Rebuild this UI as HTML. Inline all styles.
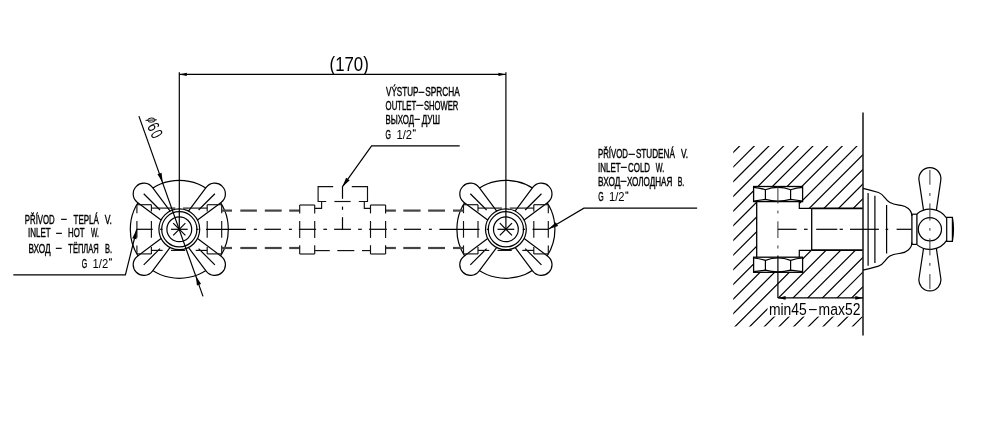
<!DOCTYPE html>
<html><head><meta charset="utf-8"><title>Drawing</title>
<style>
html,body{margin:0;padding:0;background:#fff;}
body{width:995px;height:439px;overflow:hidden;font-family:"Liberation Sans",sans-serif;}
svg{display:block;filter:grayscale(1);}
.l{fill:none;stroke:#000;stroke-width:1.2;}
.n{fill:none;stroke:#000;stroke-width:1.2;}
.lw{fill:#fff;stroke:#000;stroke-width:1.2;}
.h{fill:none;stroke:#111;stroke-width:1.15;}
.g{fill:none;stroke:#333;stroke-width:0.9;}
.g2{fill:none;stroke:#333;stroke-width:1;}
.t{fill:none;stroke:#444;stroke-width:2.2;}
.k{fill:none;stroke:#000;stroke-width:1.8;}
.k2{fill:none;stroke:#222;stroke-width:1.6;}
.f{fill:#000;stroke:none;}
.w{fill:#fff;stroke:none;}
.p{fill:none;stroke:#000;stroke-width:0.9;}
.q{fill:none;stroke:#000;stroke-width:1.1;}
text.big{stroke-width:0;}
text{font-family:"Liberation Sans",sans-serif;fill:#000;stroke:#000;stroke-width:0.38;}
</style></head>
<body>
<svg width="995" height="439" viewBox="0 0 995 439">
<rect x="0" y="0" width="995" height="439" fill="#fff"/>
<g id="main">
<circle class="l" cx="179.3" cy="229.3" r="49.0"/>
<path class="lw" d="M197.19,238.28 L221.13,256.15 A10.7,10.7 0 1 1 206.15,271.13 L188.28,247.19" />
<line class="l" x1="198.60" y1="248.60" x2="214.87" y2="264.87" />
<path class="lw" d="M170.32,247.19 L152.45,271.13 A10.7,10.7 0 1 1 137.47,256.15 L161.41,238.28" />
<line class="l" x1="160.00" y1="248.60" x2="143.73" y2="264.87" />
<path class="lw" d="M161.41,220.32 L137.47,202.45 A10.7,10.7 0 1 1 152.45,187.47 L170.32,211.41" />
<line class="l" x1="160.00" y1="210.00" x2="143.73" y2="193.73" />
<path class="lw" d="M188.28,211.41 L206.15,187.47 A10.7,10.7 0 1 1 221.13,202.45 L197.19,220.32" />
<line class="l" x1="198.60" y1="210.00" x2="214.87" y2="193.73" />
<circle class="lw" cx="179.3" cy="229.3" r="20.4"/>
<circle class="l" cx="179.3" cy="229.3" r="17.6"/>
<circle class="l" cx="179.3" cy="229.3" r="12.4"/>
<line class="l" x1="170.90" y1="229.30" x2="187.70" y2="229.30" />
<line class="l" x1="173.20" y1="223.20" x2="185.40" y2="235.40" />
<line class="l" x1="173.20" y1="235.40" x2="185.40" y2="223.20" />
<line class="l" x1="160.10" y1="229.30" x2="162.50" y2="229.30" />
<line class="l" x1="196.10" y1="229.30" x2="198.50" y2="229.30" />
<line class="h" x1="136.90" y1="204.70" x2="136.90" y2="213.20" />
<line class="h" x1="136.90" y1="221.00" x2="136.90" y2="237.70" />
<line class="h" x1="136.90" y1="245.40" x2="136.90" y2="253.90" />
<line class="h" x1="151.40" y1="204.70" x2="151.40" y2="211.50" />
<line class="h" x1="151.40" y1="221.00" x2="151.40" y2="237.70" />
<line class="h" x1="151.40" y1="247.00" x2="151.40" y2="253.90" />
<line class="h" x1="136.90" y1="204.70" x2="151.40" y2="204.70" />
<line class="h" x1="136.90" y1="253.90" x2="151.40" y2="253.90" />
<line class="h" x1="221.70" y1="204.70" x2="221.70" y2="213.20" />
<line class="h" x1="221.70" y1="221.00" x2="221.70" y2="237.70" />
<line class="h" x1="221.70" y1="245.40" x2="221.70" y2="253.90" />
<line class="h" x1="207.20" y1="204.70" x2="207.20" y2="211.50" />
<line class="h" x1="207.20" y1="221.00" x2="207.20" y2="237.70" />
<line class="h" x1="207.20" y1="247.00" x2="207.20" y2="253.90" />
<line class="h" x1="221.70" y1="204.70" x2="207.20" y2="204.70" />
<line class="h" x1="221.70" y1="253.90" x2="207.20" y2="253.90" />
<line class="h" x1="151.40" y1="208.10" x2="175.30" y2="208.10" />
<line class="h" x1="183.10" y1="208.10" x2="207.20" y2="208.10" />
<line class="h" x1="151.40" y1="250.40" x2="162.60" y2="250.40" />
<line class="h" x1="170.90" y1="250.40" x2="185.20" y2="250.40" />
<line class="h" x1="195.70" y1="250.40" x2="207.20" y2="250.40" />
<circle class="l" cx="505.9" cy="229.3" r="49.0"/>
<path class="lw" d="M523.79,238.28 L547.73,256.15 A10.7,10.7 0 1 1 532.75,271.13 L514.88,247.19" />
<line class="l" x1="525.20" y1="248.60" x2="541.47" y2="264.87" />
<path class="lw" d="M496.92,247.19 L479.05,271.13 A10.7,10.7 0 1 1 464.07,256.15 L488.01,238.28" />
<line class="l" x1="486.60" y1="248.60" x2="470.33" y2="264.87" />
<path class="lw" d="M488.01,220.32 L464.07,202.45 A10.7,10.7 0 1 1 479.05,187.47 L496.92,211.41" />
<line class="l" x1="486.60" y1="210.00" x2="470.33" y2="193.73" />
<path class="lw" d="M514.88,211.41 L532.75,187.47 A10.7,10.7 0 1 1 547.73,202.45 L523.79,220.32" />
<line class="l" x1="525.20" y1="210.00" x2="541.47" y2="193.73" />
<circle class="lw" cx="505.9" cy="229.3" r="20.4"/>
<circle class="l" cx="505.9" cy="229.3" r="17.6"/>
<circle class="l" cx="505.9" cy="229.3" r="12.4"/>
<line class="l" x1="497.50" y1="229.30" x2="514.30" y2="229.30" />
<line class="l" x1="499.80" y1="223.20" x2="512.00" y2="235.40" />
<line class="l" x1="499.80" y1="235.40" x2="512.00" y2="223.20" />
<line class="l" x1="486.70" y1="229.30" x2="489.10" y2="229.30" />
<line class="l" x1="522.70" y1="229.30" x2="525.10" y2="229.30" />
<line class="h" x1="463.50" y1="204.70" x2="463.50" y2="213.20" />
<line class="h" x1="463.50" y1="221.00" x2="463.50" y2="237.70" />
<line class="h" x1="463.50" y1="245.40" x2="463.50" y2="253.90" />
<line class="h" x1="478.00" y1="204.70" x2="478.00" y2="211.50" />
<line class="h" x1="478.00" y1="221.00" x2="478.00" y2="237.70" />
<line class="h" x1="478.00" y1="247.00" x2="478.00" y2="253.90" />
<line class="h" x1="463.50" y1="204.70" x2="478.00" y2="204.70" />
<line class="h" x1="463.50" y1="253.90" x2="478.00" y2="253.90" />
<line class="h" x1="548.30" y1="204.70" x2="548.30" y2="213.20" />
<line class="h" x1="548.30" y1="221.00" x2="548.30" y2="237.70" />
<line class="h" x1="548.30" y1="245.40" x2="548.30" y2="253.90" />
<line class="h" x1="533.80" y1="204.70" x2="533.80" y2="211.50" />
<line class="h" x1="533.80" y1="221.00" x2="533.80" y2="237.70" />
<line class="h" x1="533.80" y1="247.00" x2="533.80" y2="253.90" />
<line class="h" x1="548.30" y1="204.70" x2="533.80" y2="204.70" />
<line class="h" x1="548.30" y1="253.90" x2="533.80" y2="253.90" />
<line class="h" x1="478.00" y1="208.10" x2="501.90" y2="208.10" />
<line class="h" x1="509.70" y1="208.10" x2="533.80" y2="208.10" />
<line class="h" x1="478.00" y1="250.40" x2="489.20" y2="250.40" />
<line class="h" x1="497.50" y1="250.40" x2="511.80" y2="250.40" />
<line class="h" x1="522.30" y1="250.40" x2="533.80" y2="250.40" />
<line class="l" x1="136.70" y1="229.30" x2="152.70" y2="229.30" />
<line class="l" x1="206.00" y1="229.30" x2="245.90" y2="229.30" />
<line class="l" x1="439.40" y1="229.30" x2="479.50" y2="229.30" />
<line class="l" x1="532.50" y1="229.30" x2="548.70" y2="229.30" />
<line class="l" x1="253.80" y1="229.30" x2="256.90" y2="229.30" />
<line class="l" x1="264.40" y1="229.30" x2="280.90" y2="229.30" />
<line class="l" x1="288.90" y1="229.30" x2="291.90" y2="229.30" />
<line class="l" x1="298.80" y1="229.30" x2="316.10" y2="229.30" />
<line class="l" x1="323.40" y1="229.30" x2="327.00" y2="229.30" />
<line class="l" x1="334.10" y1="229.30" x2="351.00" y2="229.30" />
<line class="l" x1="358.10" y1="229.30" x2="361.80" y2="229.30" />
<line class="l" x1="369.10" y1="229.30" x2="386.80" y2="229.30" />
<line class="l" x1="393.60" y1="229.30" x2="396.60" y2="229.30" />
<line class="l" x1="404.00" y1="229.30" x2="421.00" y2="229.30" />
<line class="l" x1="428.90" y1="229.30" x2="431.90" y2="229.30" />
<line class="t" x1="221.70" y1="210.60" x2="232.00" y2="210.60" />
<line class="t" x1="240.30" y1="210.60" x2="256.90" y2="210.60" />
<line class="t" x1="264.80" y1="210.60" x2="281.70" y2="210.60" />
<line class="t" x1="289.20" y1="210.60" x2="299.70" y2="210.60" />
<line class="t" x1="385.60" y1="210.60" x2="395.90" y2="210.60" />
<line class="t" x1="403.30" y1="210.60" x2="420.60" y2="210.60" />
<line class="t" x1="428.10" y1="210.60" x2="445.00" y2="210.60" />
<line class="t" x1="453.00" y1="210.60" x2="463.40" y2="210.60" />
<line class="t" x1="221.70" y1="248.00" x2="232.00" y2="248.00" />
<line class="t" x1="240.30" y1="248.00" x2="256.90" y2="248.00" />
<line class="t" x1="264.80" y1="248.00" x2="281.70" y2="248.00" />
<line class="t" x1="289.20" y1="248.00" x2="299.70" y2="248.00" />
<line class="t" x1="385.60" y1="248.00" x2="395.90" y2="248.00" />
<line class="t" x1="403.30" y1="248.00" x2="420.60" y2="248.00" />
<line class="t" x1="428.10" y1="248.00" x2="445.00" y2="248.00" />
<line class="t" x1="453.00" y1="248.00" x2="463.40" y2="248.00" />
<line class="h" x1="299.70" y1="205.00" x2="314.70" y2="205.00" />
<line class="h" x1="299.70" y1="254.00" x2="314.70" y2="254.00" />
<line class="h" x1="299.70" y1="205.00" x2="299.70" y2="213.40" />
<line class="h" x1="299.70" y1="221.00" x2="299.70" y2="237.90" />
<line class="h" x1="299.70" y1="245.20" x2="299.70" y2="254.00" />
<line class="h" x1="314.70" y1="205.00" x2="314.70" y2="213.40" />
<line class="h" x1="314.70" y1="221.00" x2="314.70" y2="237.90" />
<line class="h" x1="314.70" y1="245.20" x2="314.70" y2="254.00" />
<line class="h" x1="370.50" y1="205.00" x2="385.60" y2="205.00" />
<line class="h" x1="370.50" y1="254.00" x2="385.60" y2="254.00" />
<line class="h" x1="370.50" y1="205.00" x2="370.50" y2="213.40" />
<line class="h" x1="370.50" y1="221.00" x2="370.50" y2="237.90" />
<line class="h" x1="370.50" y1="245.20" x2="370.50" y2="254.00" />
<line class="h" x1="385.60" y1="205.00" x2="385.60" y2="213.40" />
<line class="h" x1="385.60" y1="221.00" x2="385.60" y2="237.90" />
<line class="h" x1="385.60" y1="245.20" x2="385.60" y2="254.00" />
<path class="h" d="M314.7,208.4 L321.6,208.4 L321.6,201.5" />
<path class="h" d="M370.5,208.4 L364.3,208.4 L364.3,201.5" />
<path class="h" d="M333.2,186.6 L318.1,186.6 L318.1,201.5 L326.2,201.5" />
<path class="h" d="M351.8,186.6 L367.5,186.6 L367.5,201.5 L358.8,201.5" />
<line class="h" x1="334.40" y1="201.50" x2="350.60" y2="201.50" />
<line class="l" x1="342.50" y1="186.60" x2="342.50" y2="198.80" />
<line class="l" x1="342.50" y1="206.60" x2="342.50" y2="209.80" />
<line class="l" x1="342.50" y1="217.20" x2="342.50" y2="229.30" />
<line class="h" x1="314.70" y1="250.60" x2="329.80" y2="250.60" />
<line class="h" x1="337.30" y1="250.60" x2="354.30" y2="250.60" />
<line class="h" x1="362.00" y1="250.60" x2="370.50" y2="250.60" />
<line class="l" x1="179.30" y1="72.20" x2="179.30" y2="229.30" />
<line class="l" x1="505.90" y1="72.20" x2="505.90" y2="229.30" />
<line class="l" x1="179.30" y1="74.40" x2="505.90" y2="74.40" />
<polygon class="f" points="179.30,74.40 186.80,76.00 186.80,72.80"/>
<polygon class="f" points="505.90,74.40 498.40,72.80 498.40,76.00"/>
<line class="l" x1="138.90" y1="116.10" x2="203.00" y2="296.40" />
<polygon class="f" points="162.70,182.60 161.56,172.82 157.42,174.29"/>
<polygon class="f" points="195.80,275.70 196.94,285.48 201.08,284.01"/>
<path class="n" d="M13.3,274.8 L125.4,274.8 L136.7,229.5" />
<polygon class="f" points="136.70,229.50 132.24,238.28 136.51,239.35"/>
<path class="n" d="M459.7,145.9 L371.6,145.9 L342.3,186.9" />
<polygon class="f" points="342.30,186.90 349.67,180.37 346.09,177.81"/>
<path class="n" d="M697.1,208.2 L583.9,208.2 L548.7,229.1" />
<polygon class="f" points="548.70,229.10 558.08,226.09 555.83,222.31"/>
</g>
<g id="side">
<clipPath id="hc"><rect x="733.3" y="146.0" width="129.7" height="180.5"/></clipPath>
<path class="l" clip-path="url(#hc)" d="M731.30,154.30 L865.00,20.60 M731.30,168.97 L865.00,35.27 M731.30,183.64 L865.00,49.94 M731.30,198.31 L865.00,64.61 M731.30,212.98 L865.00,79.28 M731.30,227.65 L865.00,93.95 M731.30,242.32 L865.00,108.62 M731.30,256.99 L865.00,123.29 M731.30,271.66 L865.00,137.96 M731.30,286.33 L865.00,152.63 M731.30,301.00 L865.00,167.30 M731.30,315.67 L865.00,181.97 M731.30,330.34 L865.00,196.64 M731.30,345.01 L865.00,211.31 M731.30,359.68 L865.00,225.98 M731.30,374.35 L865.00,240.65 M731.30,389.02 L865.00,255.32 M731.30,403.69 L865.00,269.99 M731.30,418.36 L865.00,284.66 M731.30,433.03 L865.00,299.33 M731.30,447.70 L865.00,314.00"/>
<path class="w" d="M753.6,186.5 H802.6 V201.6 H799.3 V208.3 H863 V250.4 H799.3 V257.2 H802.6 V272.3 H753.6 V257.2 H756.7 V201.6 H753.6 Z"/>
<rect class="w" x="767.5" y="298.0" width="95.5" height="18.6"/>
<rect class="l" x="753.6" y="186.5" width="49.0" height="15.099999999999994" style="stroke-width:1.3"/>
<line class="l" x1="765.40" y1="189.70" x2="765.40" y2="199.40" />
<line class="l" x1="790.60" y1="189.70" x2="790.60" y2="199.40" />
<path class="l" d="M753.6,187.3 Q759.5,187.7 765.4,189.7 Q778,184.9 790.6,189.7 Q796.6,187.7 802.6,187.3" />
<path class="l" d="M753.6,201.0 L765.4,199.4 Q778,202.79999999999998 790.6,199.4 L802.6,201.0" />
<rect class="l" x="753.6" y="257.2" width="49.0" height="15.100000000000023" style="stroke-width:1.3"/>
<line class="l" x1="765.40" y1="260.40" x2="765.40" y2="270.10" />
<line class="l" x1="790.60" y1="260.40" x2="790.60" y2="270.10" />
<path class="l" d="M753.6,258.0 Q759.5,258.4 765.4,260.4 Q778,255.6 790.6,260.4 Q796.6,258.4 802.6,258.0" />
<path class="l" d="M753.6,271.7 L765.4,270.1 Q778,273.5 790.6,270.1 L802.6,271.7" />
<line class="l" x1="756.70" y1="201.60" x2="756.70" y2="257.20" style="stroke-width:1.3"/>
<path class="l" d="M799.3,201.6 V208.3 H811.7" />
<path class="l" d="M799.3,257.2 V250.4 H811.7" />
<line class="l" x1="811.70" y1="208.30" x2="811.70" y2="250.40" style="stroke-width:1.3"/>
<line class="k" x1="811.70" y1="208.30" x2="863.00" y2="208.30" />
<line class="k" x1="811.70" y1="250.20" x2="863.00" y2="250.20" />
<line class="k2" x1="863.00" y1="112.60" x2="863.00" y2="335.60" />
<line class="g2" x1="777.90" y1="186.50" x2="777.90" y2="203.50" />
<line class="g2" x1="777.90" y1="210.60" x2="777.90" y2="213.40" />
<line class="g2" x1="777.90" y1="221.30" x2="777.90" y2="238.00" />
<line class="g2" x1="777.90" y1="245.50" x2="777.90" y2="248.50" />
<line class="l" x1="777.90" y1="255.50" x2="777.90" y2="297.90" />
<line class="l" x1="777.90" y1="229.30" x2="796.60" y2="229.30" />
<line class="l" x1="804.00" y1="229.30" x2="807.60" y2="229.30" />
<line class="l" x1="816.20" y1="229.30" x2="837.30" y2="229.30" />
<line class="l" x1="839.60" y1="229.30" x2="842.90" y2="229.30" />
<line class="l" x1="850.00" y1="229.30" x2="878.90" y2="229.30" />
<line class="l" x1="885.60" y1="229.30" x2="888.20" y2="229.30" />
<line class="l" x1="896.60" y1="229.30" x2="911.60" y2="229.30" />
<line class="l" x1="777.90" y1="297.90" x2="863.00" y2="297.90" />
<polygon class="f" points="777.90,297.90 785.60,299.70 785.60,296.10"/>
<polygon class="f" points="863.00,297.90 855.30,296.10 855.30,299.70"/>
<path class="l" d="M863.0,188.40 C868,189.60 873,190.90 878.5,192.50 C884,194.20 885,199.50 889.5,202.30 C893.5,204.80 897,204.80 901.2,205.40 C906,206.10 911.7,209.50 911.9,216.00" />
<path class="l" d="M863.0,270.20 C868,269.00 873,267.70 878.5,266.10 C884,264.40 885,259.10 889.5,256.30 C893.5,253.80 897,253.80 901.2,253.20 C906,252.50 911.7,249.10 911.9,242.60" />
<line class="l" x1="911.90" y1="214.50" x2="911.90" y2="244.10" style="stroke-width:1.3"/>
<line class="l" x1="868.10" y1="192.90" x2="868.10" y2="265.70" />
<line class="l" x1="874.90" y1="195.70" x2="874.90" y2="262.90" />
<line class="l" x1="886.60" y1="205.00" x2="886.60" y2="253.60" />
<line class="l" x1="916.90" y1="214.00" x2="916.90" y2="244.60" style="stroke-width:1.3"/>
<line class="l" x1="911.90" y1="214.20" x2="916.90" y2="214.20" />
<line class="l" x1="911.90" y1="244.40" x2="916.90" y2="244.40" />
<path class="l" d="M923.5,209.90 L919.03,180.35 A11,11 0 1 1 940.77,180.35 L936.4,209.90" />
<path class="l" d="M923.5,248.70 L919.03,278.25 A11,11 0 1 0 940.77,278.25 L936.4,248.70" />
<path class="l" d="M916.9,213.97 A20.1,20.1 0 0 1 946.7,218.27" />
<path class="l" d="M916.9,244.63 A20.1,20.1 0 0 0 946.7,240.33" />
<circle class="l" cx="929.9" cy="229.3" r="11.6"/>
<path class="l" d="M946.7,217.4 H952.4 Q954.6,229.3 952.4,241.4 H946.7 Z" style="stroke-width:1.2"/>
<line class="l" x1="952.40" y1="217.40" x2="952.40" y2="241.40" />
<line class="g2" x1="929.90" y1="169.90" x2="929.90" y2="184.70" />
<line class="g2" x1="929.90" y1="193.00" x2="929.90" y2="195.90" />
<line class="g2" x1="929.90" y1="203.40" x2="929.90" y2="220.50" />
<line class="g2" x1="929.90" y1="228.00" x2="929.90" y2="230.70" />
<line class="g2" x1="929.90" y1="238.40" x2="929.90" y2="255.40" />
<line class="g2" x1="929.90" y1="262.90" x2="929.90" y2="265.80" />
<line class="g2" x1="929.90" y1="274.10" x2="929.90" y2="288.90" />
</g>
<g id="labels" opacity="0.999">
<text class="big" x="329.6" y="71.1" font-size="20" textLength="39.2" lengthAdjust="spacingAndGlyphs">(170)</text>
<text x="24.8" y="223.7" font-size="12.1" textLength="29.90" lengthAdjust="spacingAndGlyphs">PŘÍVOD</text>
<text x="61.2" y="223.0" font-size="12.1" textLength="5.30" lengthAdjust="spacingAndGlyphs">–</text>
<text x="73.6" y="223.7" font-size="12.1" textLength="25.30" lengthAdjust="spacingAndGlyphs">TEPLÁ</text>
<text x="104.7" y="223.7" font-size="12.1" textLength="7.30" lengthAdjust="spacingAndGlyphs">V.</text>
<text x="28.0" y="237.4" font-size="12.1" textLength="22.70" lengthAdjust="spacingAndGlyphs">INLET</text>
<text x="56.2" y="236.7" font-size="12.1" textLength="5.50" lengthAdjust="spacingAndGlyphs">–</text>
<text x="68.0" y="237.4" font-size="12.1" textLength="16.60" lengthAdjust="spacingAndGlyphs">HOT</text>
<text x="90.9" y="237.4" font-size="12.1" textLength="8.00" lengthAdjust="spacingAndGlyphs">W.</text>
<text x="28.4" y="252.5" font-size="12.1" textLength="22.30" lengthAdjust="spacingAndGlyphs">ВХОД</text>
<text x="56.0" y="251.8" font-size="12.1" textLength="5.50" lengthAdjust="spacingAndGlyphs">–</text>
<text x="68.3" y="252.5" font-size="12.1" textLength="30.40" lengthAdjust="spacingAndGlyphs">ТЁПЛАЯ</text>
<text x="104.9" y="252.5" font-size="12.1" textLength="7.10" lengthAdjust="spacingAndGlyphs">В.</text>
<text x="81.8" y="267.7" font-size="12.1" textLength="5.40" lengthAdjust="spacingAndGlyphs">G</text>
<text class="big" x="92.6" y="267.7" font-size="12.1" textLength="15.60" lengthAdjust="spacingAndGlyphs">1/2</text><path class="q" d="M109.60,258.30 v2.3 M111.30,258.30 v2.3"/>
<text x="386.0" y="96.2" font-size="12.1" textLength="32.40" lengthAdjust="spacingAndGlyphs">VÝSTUP</text>
<text x="418.8" y="95.5" font-size="12.1" textLength="5.40" lengthAdjust="spacingAndGlyphs">–</text>
<text x="425.2" y="96.2" font-size="12.1" textLength="34.70" lengthAdjust="spacingAndGlyphs">SPRCHA</text>
<text x="385.6" y="110.0" font-size="12.1" textLength="30.60" lengthAdjust="spacingAndGlyphs">OUTLET</text>
<text x="416.6" y="109.3" font-size="12.1" textLength="6.60" lengthAdjust="spacingAndGlyphs">–</text>
<text x="423.9" y="110.0" font-size="12.1" textLength="34.50" lengthAdjust="spacingAndGlyphs">SHOWER</text>
<text x="385.6" y="123.6" font-size="12.1" textLength="28.60" lengthAdjust="spacingAndGlyphs">ВЫХОД</text>
<text x="414.7" y="122.9" font-size="12.1" textLength="5.00" lengthAdjust="spacingAndGlyphs">–</text>
<text x="421.7" y="123.6" font-size="12.1" textLength="18.40" lengthAdjust="spacingAndGlyphs">ДУШ</text>
<text x="385.6" y="138.6" font-size="12.1" textLength="5.40" lengthAdjust="spacingAndGlyphs">G</text>
<text class="big" x="396.40000000000003" y="138.6" font-size="12.1" textLength="15.60" lengthAdjust="spacingAndGlyphs">1/2</text><path class="q" d="M413.40,129.20 v2.3 M415.10,129.20 v2.3"/>
<text x="598.0" y="158.4" font-size="12.1" textLength="30.00" lengthAdjust="spacingAndGlyphs">PŘÍVOD</text>
<text x="628.7" y="157.7" font-size="12.1" textLength="6.00" lengthAdjust="spacingAndGlyphs">–</text>
<text x="635.9" y="158.4" font-size="12.1" textLength="39.00" lengthAdjust="spacingAndGlyphs">STUDENÁ</text>
<text x="680.9" y="158.4" font-size="12.1" textLength="7.10" lengthAdjust="spacingAndGlyphs">V.</text>
<text x="598.0" y="172.0" font-size="12.1" textLength="22.60" lengthAdjust="spacingAndGlyphs">INLET</text>
<text x="621.1" y="171.3" font-size="12.1" textLength="5.60" lengthAdjust="spacingAndGlyphs">–</text>
<text x="628.0" y="172.0" font-size="12.1" textLength="22.10" lengthAdjust="spacingAndGlyphs">COLD</text>
<text x="655.8" y="172.0" font-size="12.1" textLength="8.40" lengthAdjust="spacingAndGlyphs">W.</text>
<text x="598.0" y="185.6" font-size="12.1" textLength="22.40" lengthAdjust="spacingAndGlyphs">ВХОД</text>
<text x="620.7" y="184.9" font-size="12.1" textLength="5.50" lengthAdjust="spacingAndGlyphs">–</text>
<text x="626.9" y="185.6" font-size="12.1" textLength="45.50" lengthAdjust="spacingAndGlyphs">ХОЛОДНАЯ</text>
<text x="677.7" y="185.6" font-size="12.1" textLength="6.60" lengthAdjust="spacingAndGlyphs">В.</text>
<text x="598.2" y="200.8" font-size="12.1" textLength="5.40" lengthAdjust="spacingAndGlyphs">G</text>
<text class="big" x="609.0" y="200.8" font-size="12.1" textLength="15.60" lengthAdjust="spacingAndGlyphs">1/2</text><path class="q" d="M626.00,191.40 v2.3 M627.70,191.40 v2.3"/>
<text class="big" x="768.9" y="314.5" font-size="16.9" textLength="37.90" lengthAdjust="spacingAndGlyphs">min45</text>
<text class="big" x="809.0" y="313.8" font-size="16.9" textLength="7.70" lengthAdjust="spacingAndGlyphs">–</text>
<text class="big" x="818.6" y="314.5" font-size="16.9" textLength="41.80" lengthAdjust="spacingAndGlyphs">max52</text>
<ellipse class="p" cx="151.4" cy="120.1" rx="3.7" ry="2.1" transform="rotate(-3 151.4 120.1)"/>
<line class="p" x1="145.5" y1="120.4" x2="156.9" y2="119.8"/>
<text class="big" transform="translate(153.7,126.7) rotate(62)" x="-3.4" y="6.0" font-size="17" textLength="6.8" lengthAdjust="spacingAndGlyphs">6</text>
<text class="big" transform="translate(156.9,134.0) rotate(62)" x="-3.4" y="6.0" font-size="17" textLength="6.8" lengthAdjust="spacingAndGlyphs">0</text>
</g>
</svg>
</body></html>
